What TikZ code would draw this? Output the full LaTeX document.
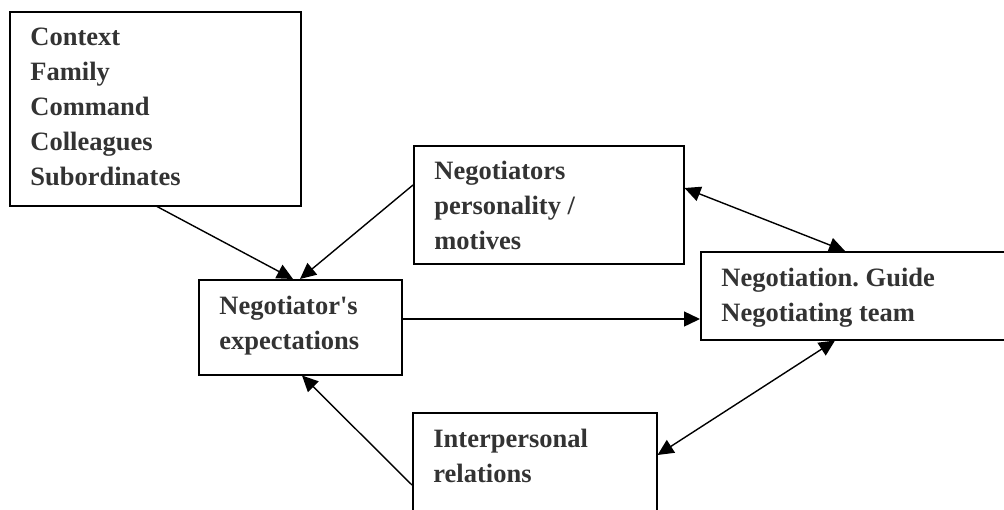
\documentclass[tikz,border=0pt]{standalone}
\usepackage{fontspec}
\setmainfont{Liberation Serif}
\usepackage{tikz}
\usetikzlibrary{calc,arrows.meta}
\definecolor{text_gray}{HTML}{333333}
\frenchspacing

\begin{document}
\begin{tikzpicture}[x=0.5pt,y=-0.5pt,>={Triangle[length=8pt,width=7.5pt]},
    box/.style={draw=black, line width=0.75pt, anchor=north west, inner sep=0pt},
    lbl/.style={anchor=north west, inner sep=0pt, align=left, text=text_gray,
        font=\fontsize{13.25}{17.5}\selectfont\bfseries},
    link/.style={line width=0.7pt}]

        % Cadre de l'image
        \useasboundingbox (0,0) rectangle (1004,509);
        \clip (0,0) rectangle (1004,509);

        % Les cadres
        \node[box, minimum width=145.5pt, minimum height=97pt] (ctx) at (9,11) {};
        \node[box, minimum width=135pt, minimum height=59pt] (pers) at (413,145) {};
        \node[box, minimum width=101.5pt, minimum height=47.5pt] (expect) at (198,279) {};
        \node[box, minimum width=156pt, minimum height=44pt] (guide) at (700,251) {};
        \node[box, minimum width=122pt, minimum height=54pt] (inter) at (412,412) {};

        % Les textes
        \node[lbl] (ctx-t) at ($(ctx.north west)+(21,9.5)$)
            {\strut Context\\Family\\Command\\Colleagues\\Subordinates};
        \node[lbl] (pers-t) at ($(pers.north west)+(21,9.5)$)
            {\strut Negotiators\\personality /\\motives};
        \node[lbl] (expect-t) at ($(expect.north west)+(21,11)$)
            {\strut Negotiator\textquotesingle s\\expectations};
        \node[lbl] (guide-t) at ($(guide.north west)+(21,11)$)
            {\strut Negotiation. Guide\\Negotiating team};
        \node[lbl] (inter-t) at ($(inter.north west)+(21,10.5)$)
            {\strut Interpersonal\\relations};

        % Les flèches
        \draw[->, link] ($(ctx.south west)+(148,0)$) -- ($(expect.north west)+(95,0)$);
        \draw[->, link] ($(pers.north west)+(0,40)$) -- ($(expect.north west)+(102,0)$);
        \draw[->, link] ($(expect.north east)+(0,40)$) -- ($(guide.north west)+(0,68)$);
        \draw[<->, link] ($(pers.north east)+(0,43)$) -- ($(guide.north west)+(145,0)$);
        \draw[<->, link] ($(guide.south west)+(135,0)$) -- ($(inter.north east)+(0,43)$);
        \draw[->, link] ($(inter.north west)+(0,73)$) -- ($(expect.south west)+(104,0)$);
    \end{tikzpicture}
\end{document}
